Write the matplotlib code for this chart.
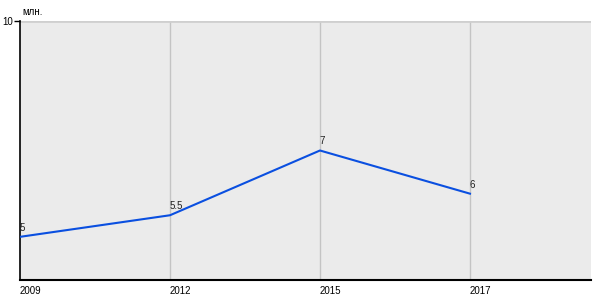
import matplotlib
matplotlib.use("Agg")
from matplotlib import pyplot as plt

years = ["2009", "2012", "2015", "2017"]
values = [5, 5.5, 7, 6]
point_labels = ["5", "5.5", "7", "6"]

plt.rcParams['font.family'] = ['Liberation Sans', 'DejaVu Sans']

fig = plt.figure(figsize=(6, 3), dpi=100)
ax = fig.add_axes([20 / 600, 20 / 300, 571 / 600, 259 / 300])
ax.set_facecolor('#ebebeb')

x = list(range(len(years)))
ax.plot(x, values, color='#0a4fe0', lw=1.5, zorder=3)

for xi, v, lab in zip(x, values, point_labels):
    ax.annotate(lab, (xi, v), xytext=(0, 3), textcoords='offset points',
                fontsize=7, ha='left', va='bottom', color='#222222')

ax.set_xlim(0, 3.807)
ax.set_ylim(4, 10)

for xi in x[1:]:
    ax.axvline(xi, color='#c4c4c4', lw=1, zorder=1)
ax.axhline(10, color='#cfcfcf', lw=2, zorder=1)

ax.set_xticks(x)
ax.set_xticklabels(years, fontsize=7, ha='left')
ax.tick_params(axis='x', length=0, pad=4)
ax.set_yticks([10])
ax.set_yticklabels(['10'], fontsize=7)
ax.tick_params(axis='y', length=4, width=1, pad=1)

for side in ['top', 'right']:
    ax.spines[side].set_visible(False)
ax.spines['left'].set_linewidth(1.2)
ax.spines['bottom'].set_linewidth(1.5)

fig.text(22 / 600, 1 - 12 / 300, 'млн.', fontsize=7, ha='left', va='center')

fig.savefig('out.png', dpi=100)
